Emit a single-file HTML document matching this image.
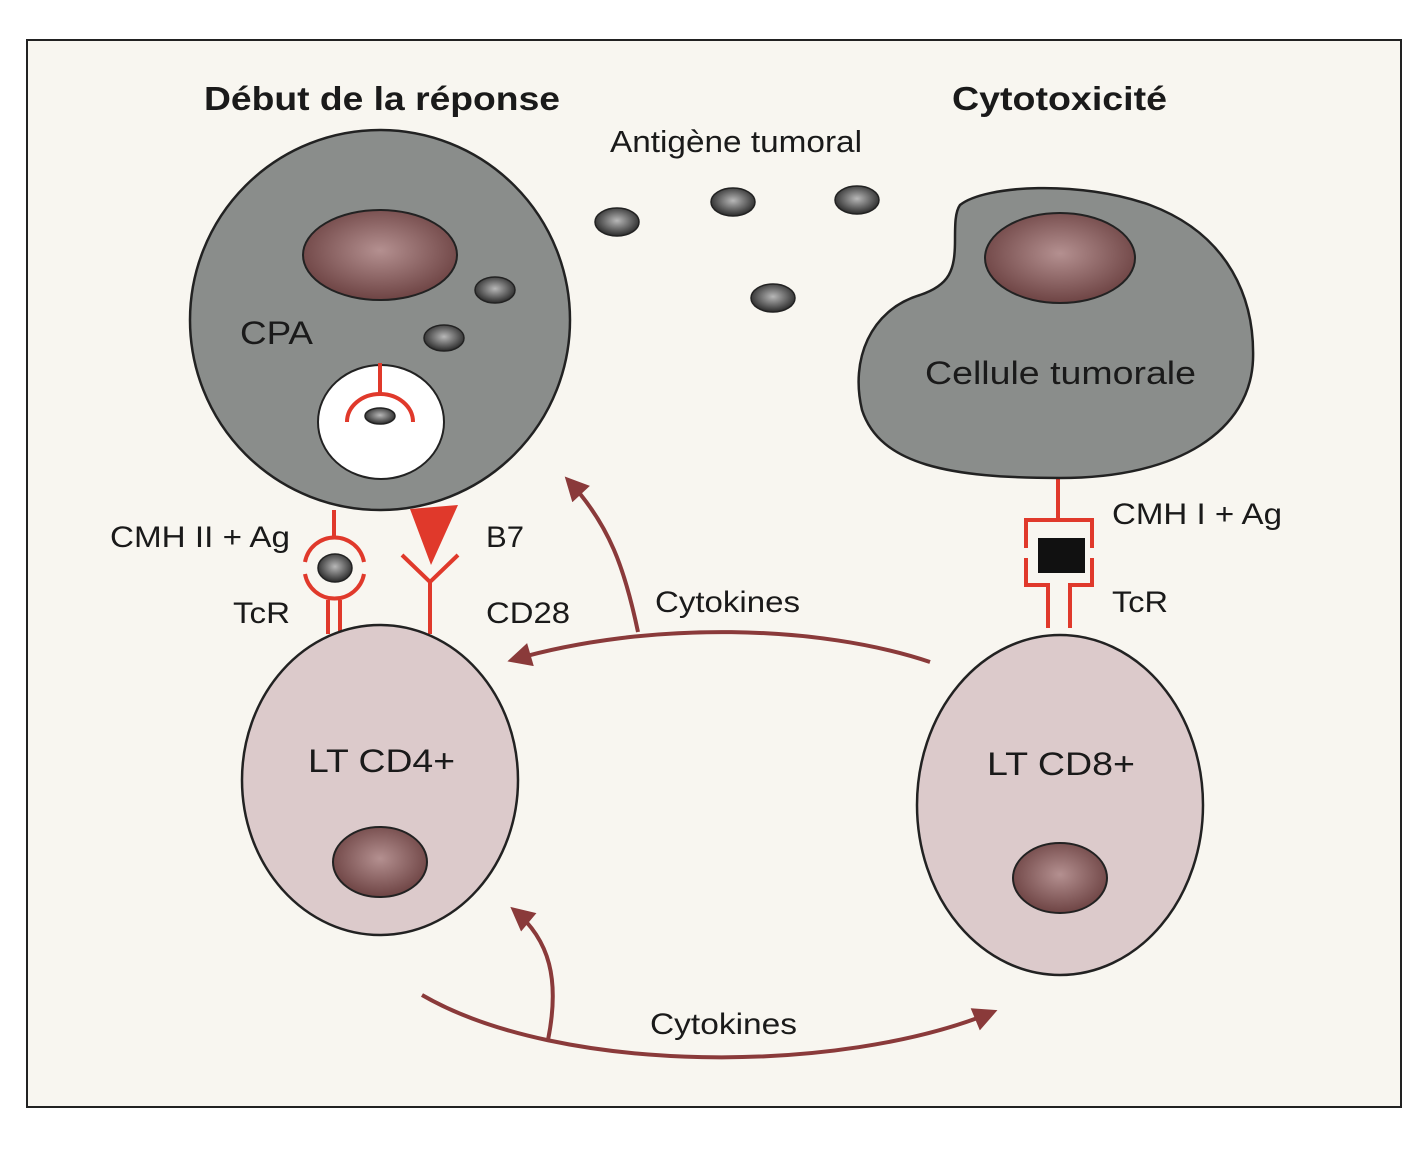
<!DOCTYPE html>
<html><head><meta charset="utf-8"><style>
body{margin:0;background:#fff}
svg{display:block}
text{font-family:"Liberation Sans",sans-serif;fill:#1a1a1a}
</style></head><body>
<svg width="1424" height="1152" viewBox="0 0 1424 1152">
<defs>
<radialGradient id="nuc" cx="50%" cy="45%" r="55%"><stop offset="0" stop-color="#b49090"/><stop offset="1" stop-color="#6e4444"/></radialGradient>
<radialGradient id="ag" cx="50%" cy="45%" r="55%"><stop offset="0" stop-color="#b8b8b8"/><stop offset="1" stop-color="#2a2a2a"/></radialGradient>
<marker id="ar2" viewBox="0 0 10 10" refX="8" refY="5" markerWidth="28" markerHeight="24" orient="auto" markerUnits="userSpaceOnUse"><path d="M0,0 L10,5 L0,10 Z" fill="#8a3a3a"/></marker>
</defs>
<rect x="27" y="40" width="1374" height="1067" fill="#f8f6f0" stroke="#222" stroke-width="2"/>
<g lengthAdjust="spacingAndGlyphs">
<text x="204" y="110" font-size="33" font-weight="bold" textLength="356" lengthAdjust="spacingAndGlyphs">Début de la réponse</text>
<text x="952" y="110" font-size="33" font-weight="bold" textLength="215" lengthAdjust="spacingAndGlyphs">Cytotoxicité</text>
<text x="610" y="152" font-size="31" textLength="252" lengthAdjust="spacingAndGlyphs">Antigène tumoral</text>
</g>
<ellipse cx="617" cy="222" rx="22" ry="14" fill="url(#ag)" stroke="#222" stroke-width="1.5"/>
<ellipse cx="733" cy="202" rx="22" ry="14" fill="url(#ag)" stroke="#222" stroke-width="1.5"/>
<ellipse cx="857" cy="200" rx="22" ry="14" fill="url(#ag)" stroke="#222" stroke-width="1.5"/>
<ellipse cx="773" cy="298" rx="22" ry="14" fill="url(#ag)" stroke="#222" stroke-width="1.5"/>
<circle cx="380" cy="320" r="190" fill="#8a8d8b" stroke="#222" stroke-width="2.5"/>
<ellipse cx="380" cy="255" rx="77" ry="45" fill="url(#nuc)" stroke="#222" stroke-width="2"/>
<ellipse cx="495" cy="290" rx="20" ry="13" fill="url(#ag)" stroke="#222" stroke-width="1.5"/>
<ellipse cx="444" cy="338" rx="20" ry="13" fill="url(#ag)" stroke="#222" stroke-width="1.5"/>
<text x="240" y="344" font-size="32" textLength="73" lengthAdjust="spacingAndGlyphs">CPA</text>
<ellipse cx="381" cy="422" rx="63" ry="57" fill="#fff" stroke="#222" stroke-width="2"/>
<g stroke="#e0392b" stroke-width="4" fill="none">
<line x1="380" y1="363" x2="380" y2="394"/>
<path d="M347,422 A33,28 0 0 1 413,422"/>
<line x1="334" y1="510" x2="334" y2="536"/>
<path d="M305,562 A30,30 0 0 1 364,562"/>
<path d="M305,574 A30,30 0 0 0 364,574"/>
<line x1="328" y1="600" x2="328" y2="634"/><line x1="340" y1="600" x2="340" y2="634"/>
<path d="M402,555 L430,582 L458,555"/><line x1="430" y1="582" x2="430" y2="634"/>
<line x1="1058" y1="478" x2="1058" y2="520"/>
<path d="M1026,548 V520 H1092 V548"/>
<path d="M1026,558 V585 H1048 V628"/>
<path d="M1092,558 V585 H1070 V628"/>
</g>
<ellipse cx="380" cy="416" rx="15" ry="8" fill="url(#ag)" stroke="#222" stroke-width="1.5"/>
<ellipse cx="335" cy="568" rx="17" ry="14" fill="url(#ag)" stroke="#222" stroke-width="1.5"/>
<path d="M410,509 L458,505 L431,565 Z" fill="#e0392b"/>
<text x="110" y="547" font-size="30" textLength="180" lengthAdjust="spacingAndGlyphs">CMH II + Ag</text>
<text x="233" y="623" font-size="30" textLength="57" lengthAdjust="spacingAndGlyphs">TcR</text>
<text x="486" y="547" font-size="30" textLength="38" lengthAdjust="spacingAndGlyphs">B7</text>
<text x="486" y="623" font-size="30" textLength="84" lengthAdjust="spacingAndGlyphs">CD28</text>
<path d="M960,205 C985,185 1080,180 1150,205 C1230,235 1255,300 1253,360 C1250,430 1180,478 1060,478 C950,478 880,465 862,410 C850,360 870,310 920,295 C950,285 955,270 955,240 C955,225 955,212 960,205 Z" fill="#8a8d8b" stroke="#222" stroke-width="2.5"/>
<ellipse cx="1060" cy="258" rx="75" ry="45" fill="url(#nuc)" stroke="#222" stroke-width="2"/>
<text x="925" y="384" font-size="32" textLength="271" lengthAdjust="spacingAndGlyphs">Cellule tumorale</text>
<rect x="1038" y="538" width="47" height="35" fill="#111"/>
<text x="1112" y="524" font-size="30" textLength="170" lengthAdjust="spacingAndGlyphs">CMH I + Ag</text>
<text x="1112" y="612" font-size="30" textLength="56" lengthAdjust="spacingAndGlyphs">TcR</text>
<ellipse cx="380" cy="780" rx="138" ry="155" fill="#dccacb" stroke="#222" stroke-width="2.5"/>
<ellipse cx="380" cy="862" rx="47" ry="35" fill="url(#nuc)" stroke="#222" stroke-width="2"/>
<text x="308" y="772" font-size="32" textLength="147" lengthAdjust="spacingAndGlyphs">LT CD4+</text>
<ellipse cx="1060" cy="805" rx="143" ry="170" fill="#dccacb" stroke="#222" stroke-width="2.5"/>
<ellipse cx="1060" cy="878" rx="47" ry="35" fill="url(#nuc)" stroke="#222" stroke-width="2"/>
<text x="987" y="775" font-size="32" textLength="148" lengthAdjust="spacingAndGlyphs">LT CD8+</text>
<g stroke="#8a3a3a" stroke-width="4" fill="none">
<path d="M930,662 C820,625 650,620 512,660" marker-end="url(#ar2)"/>
<path d="M638,632 C625,570 610,525 568,480" marker-end="url(#ar2)"/>
<path d="M422,995 C560,1075 840,1075 993,1012" marker-end="url(#ar2)"/>
<path d="M548,1040 C560,980 550,940 514,910" marker-end="url(#ar2)"/>
</g>
<text x="655" y="612" font-size="30" textLength="145" lengthAdjust="spacingAndGlyphs">Cytokines</text>
<text x="650" y="1034" font-size="30" textLength="147" lengthAdjust="spacingAndGlyphs">Cytokines</text>
</svg>
</body></html>
